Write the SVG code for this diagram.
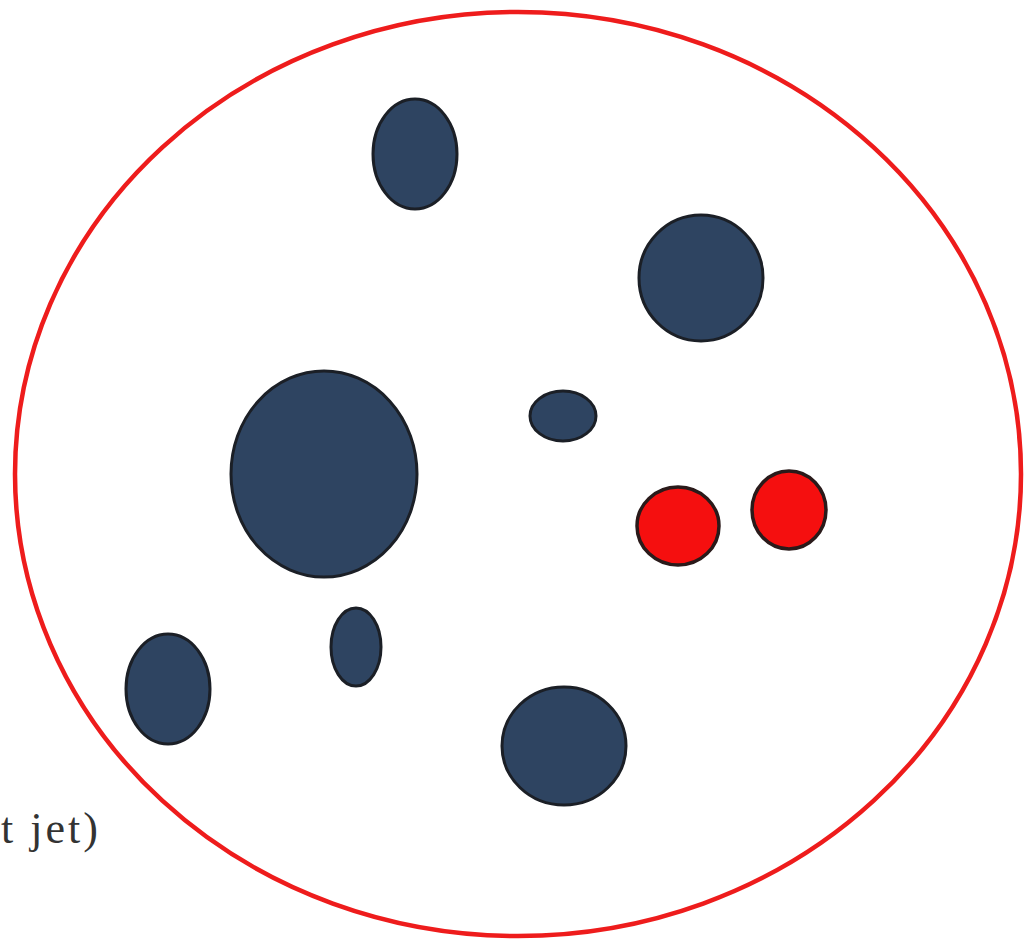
<svg xmlns="http://www.w3.org/2000/svg" width="1034" height="942" viewBox="0 0 1034 942">
<style>
.blob{fill:#2e4461;stroke:#1b1f26;stroke-width:3}
.red{fill:#f50f0f;stroke:#2a1a1a;stroke-width:3.5}
.outer{fill:none;stroke:#ee1c1c;stroke-width:4.5}
.lbl{font-family:"Liberation Serif",serif;font-size:44px;fill:#333;letter-spacing:3px}
</style>
<rect width="1034" height="942" fill="#fff"/>
<g id="jet"><ellipse class="outer" cx="518" cy="474" rx="503" ry="462"/></g>
<g id="b1"><ellipse class="blob" cx="415" cy="154" rx="42" ry="55"/></g>
<g id="b2"><ellipse class="blob" cx="701" cy="278" rx="62" ry="63"/></g>
<g id="b3"><ellipse class="blob" cx="324" cy="474" rx="93" ry="103"/></g>
<g id="b4"><ellipse class="blob" cx="563" cy="416" rx="33" ry="25"/></g>
<g id="r1"><ellipse class="red" cx="678" cy="526" rx="41" ry="39"/></g>
<g id="r2"><ellipse class="red" cx="789" cy="510" rx="37" ry="39"/></g>
<g id="b5"><ellipse class="blob" cx="356" cy="647" rx="25" ry="39"/></g>
<g id="b6"><ellipse class="blob" cx="168" cy="689" rx="42" ry="55"/></g>
<g id="b7"><ellipse class="blob" cx="564" cy="746" rx="62" ry="59"/></g>
<g id="label"><text class="lbl" x="1" y="843">t jet)</text></g>
</svg>
